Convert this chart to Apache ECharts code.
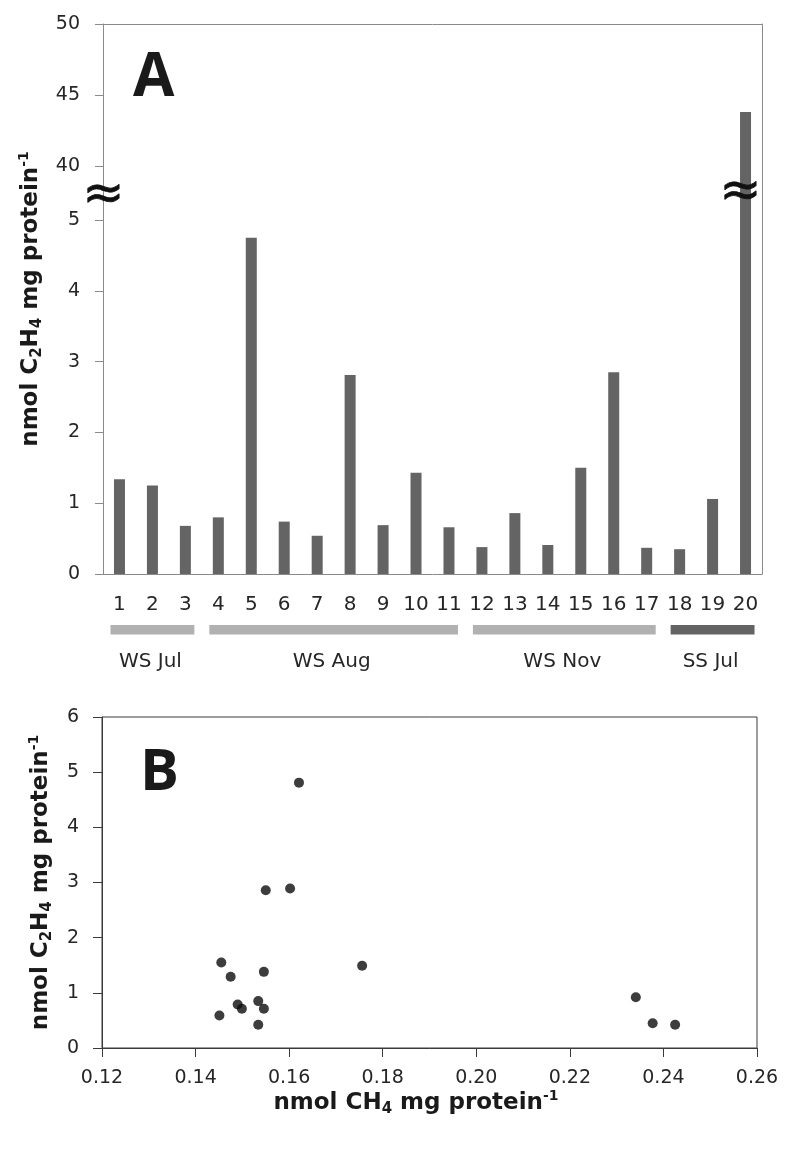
<!DOCTYPE html>
<html>
<head>
<meta charset="utf-8">
<script src="https://cdn.jsdelivr.net/npm/echarts@6/dist/echarts.min.js"></script>
<style>
html,body{margin:0;padding:0;background:#fff;}
#c{width:794px;height:1150px;}
</style>
</head>
<body>
<div id="c"></div>
<script>
// ---- Panel A data ----
const categories = ['1','2','3','4','5','6','7','8','9','10','11','12','13','14','15','16','17','18','19','20'];
const c2h4 = [1.34, 1.25, 0.68, 0.80, 4.75, 0.74, 0.54, 2.81, 0.69, 1.43, 0.66, 0.38, 0.86, 0.41, 1.50, 2.85, 0.37, 0.35, 1.06, 43.8];
const lowerTicks = [0, 1, 2, 3, 4, 5];
const upperTicks = [40, 45, 50];
const groupNames = ['WS Jul', 'WS Aug', 'WS Nov', 'SS Jul'];
const groupStart = [0, 3, 11, 17];
const groupEnd = [2, 10, 16, 19];
const groupColors = ['#b1b1b1', '#b1b1b1', '#b1b1b1', '#646464'];

// ---- Panel B data ----
const ch4B = [0.1621, 0.1550, 0.1602, 0.1455, 0.1475, 0.1546, 0.1756, 0.1490, 0.1499, 0.1534, 0.1546, 0.1451, 0.1534, 0.2341, 0.2377, 0.2425];
const c2h4B = [4.81, 2.86, 2.89, 1.55, 1.29, 1.38, 1.49, 0.79, 0.71, 0.85, 0.71, 0.59, 0.42, 0.92, 0.45, 0.42];
const xTicksB = [0.12, 0.14, 0.16, 0.18, 0.20, 0.22, 0.24, 0.26];

// ---- layout/style ----
const FONT = 'DejaVu Sans';
const grayLine = '#8a8a8a';
const darkLine = '#3a3a3a';
const txt = '#262626';
const topMin = 36.2; // lower visible edge of the upper (broken) segment

const chart = echarts.init(document.getElementById('c'), null, {renderer: 'canvas'});

const richTitle = {
  sub: {fontSize: 15, fontWeight: 'bold', fontFamily: FONT, lineHeight: 16, verticalAlign: 'bottom'},
  sup: {fontSize: 14, fontWeight: 'bold', fontFamily: FONT, lineHeight: 14, verticalAlign: 'top'}
};
function frameAxis(gridIndex, color) {
  return {type: 'value', gridIndex, position: 'right', min: 0, max: 1,
    axisLine: {show: true, lineStyle: {color, width: 1}},
    axisTick: {show: false}, axisLabel: {show: false}, splitLine: {show: false}};
}

const option = {
  animation: false,
  backgroundColor: '#fff',
  grid: [
    {left: 103, right: 32, top: 24, height: 196},
    {left: 103, right: 32, top: 220, height: 354},
    {left: 102, right: 37, top: 717, bottom: 102, show: true, borderColor: darkLine, borderWidth: 1}
  ],
  xAxis: [
    {type: 'category', gridIndex: 0, data: categories, position: 'top',
      axisLine: {show: true, onZero: false, lineStyle: {color: grayLine}},
      axisTick: {show: false}, axisLabel: {show: false}, splitLine: {show: false}},
    {type: 'category', gridIndex: 1, data: categories, position: 'bottom',
      axisLine: {show: true, onZero: false, lineStyle: {color: grayLine}},
      axisTick: {show: false},
      axisLabel: {interval: 0, fontSize: 20, fontFamily: FONT, color: txt, margin: 21}},
    {type: 'value', gridIndex: 2, min: 0.12, max: 0.26, interval: 0.02,
      axisLine: {show: true, onZero: false, lineStyle: {color: darkLine}},
      axisTick: {show: true, inside: false, length: 9, lineStyle: {color: darkLine}},
      axisLabel: {fontSize: 19, fontFamily: FONT, color: txt, margin: 21,
        formatter: v => v.toFixed(2), customValues: xTicksB},
      splitLine: {show: false}}
  ],
  yAxis: [
    {type: 'value', gridIndex: 0, min: topMin, max: 50,
      axisLine: {show: true, onZero: false, lineStyle: {color: grayLine}},
      axisTick: {show: true, inside: false, length: 8, lineStyle: {color: grayLine}, customValues: upperTicks},
      axisLabel: {fontSize: 19, fontFamily: FONT, color: txt, margin: 23, customValues: upperTicks},
      splitLine: {show: false}},
    frameAxis(0, grayLine),
    {type: 'value', gridIndex: 1, min: 0, max: 5, interval: 1,
      axisLine: {show: true, onZero: false, lineStyle: {color: grayLine}},
      axisTick: {show: true, inside: false, length: 8, lineStyle: {color: grayLine}, customValues: lowerTicks},
      axisLabel: {fontSize: 19, fontFamily: FONT, color: txt, margin: 23, customValues: lowerTicks},
      splitLine: {show: false}},
    frameAxis(1, grayLine),
    {type: 'value', gridIndex: 2, min: 0, max: 6, interval: 1,
      axisLine: {show: true, onZero: false, lineStyle: {color: darkLine}},
      axisTick: {show: true, inside: false, length: 9, lineStyle: {color: darkLine}},
      axisLabel: {fontSize: 19, fontFamily: FONT, color: txt, margin: 23},
      splitLine: {show: false}}
  ],
  series: [
    {type: 'bar', name: 'upper', xAxisIndex: 0, yAxisIndex: 0, clip: true,
      data: c2h4.map(v => (v > topMin ? v : '-')), barWidth: 11,
      itemStyle: {color: '#646464'}, silent: true},
    {type: 'bar', name: 'lower', xAxisIndex: 1, yAxisIndex: 2, clip: true,
      data: c2h4, barWidth: 11, itemStyle: {color: '#646464'}, silent: true},
    {type: 'custom', name: 'groups', xAxisIndex: 1, yAxisIndex: 2, clip: false, silent: true,
      data: groupNames.map((n, i) => [groupStart[i], 0]),
      renderItem: function (params, api) {
        const i = params.dataIndex;
        const p0 = api.coord([groupStart[i], 0]);
        const p1 = api.coord([groupEnd[i], 0]);
        const x0 = p0[0] - 9, x1 = p1[0] + 9;
        return {type: 'group', children: [
          {type: 'rect', shape: {x: x0, y: p0[1] + 51, width: x1 - x0, height: 9.5},
            style: {fill: groupColors[i]}},
          {type: 'text', x: (x0 + x1) / 2 - 2, y: p0[1] + 88,
            style: {text: groupNames[i], align: 'center', verticalAlign: 'middle',
              fontSize: 20, fontFamily: FONT, fill: txt}}
        ]};
      }},
    {type: 'scatter', name: 'B', xAxisIndex: 2, yAxisIndex: 4,
      data: ch4B.map((x, i) => [x, c2h4B[i]]), symbolSize: 10,
      itemStyle: {color: '#0d0d0d'}, silent: true}
  ]
};
chart.setOption(option);

// decorations positioned from the axes
const pTop40 = chart.convertToPixel({gridIndex: 0}, ['1', 40]);
const pLow5 = chart.convertToPixel({gridIndex: 1}, ['1', 5]);
const pBar20 = chart.convertToPixel({gridIndex: 1}, ['20', 5]);
const pLow0 = chart.convertToPixel({gridIndex: 1}, ['1', 0]);
const pTop50 = chart.convertToPixel({gridIndex: 0}, ['1', 50]);
const breakY = (pTop40[1] + pLow5[1]) / 2;
const axisX = 103;
const pB0 = chart.convertToPixel({gridIndex: 2}, [0.12, 0]);
const pB6 = chart.convertToPixel({gridIndex: 2}, [0.26, 6]);

const titleText = 'nmol C{sub|2}H{sub|4} mg protein{sup|-1}';
const approxStyle = {text: '≈', fontSize: 50, fontFamily: FONT, fill: '#111', stroke: '#111', lineWidth: 0.8,
  align: 'center', verticalAlign: 'middle'};
chart.setOption({
  graphic: [
    {type: 'text', x: axisX + 0.5, y: breakY + 3, z: 100, style: approxStyle},
    {type: 'text', x: pBar20[0] - 5, y: breakY, z: 100, style: approxStyle},
    {type: 'text', x: 133, y: 79, z: 100,
      style: {text: 'A', fontSize: 60, fontWeight: 'bold', fontFamily: 'Open Sans', fill: '#1a1a1a', align: 'left', verticalAlign: 'middle'}},
    {type: 'text', x: 140, y: 773, z: 100,
      style: {text: 'B', fontSize: 58, fontWeight: 'bold', fontFamily: 'Open Sans', fill: '#1a1a1a', align: 'left', verticalAlign: 'middle'}},
    {type: 'text', x: 31, y: (pTop50[1] + pLow0[1]) / 2, rotation: Math.PI / 2, z: 100,
      style: {text: titleText, rich: richTitle, fontSize: 23, fontWeight: 'bold', fontFamily: FONT,
        fill: '#1a1a1a', align: 'center', verticalAlign: 'middle', lineHeight: 28}},
    {type: 'text', x: 41, y: (pB0[1] + pB6[1]) / 2, rotation: Math.PI / 2, z: 100,
      style: {text: titleText, rich: richTitle, fontSize: 23, fontWeight: 'bold', fontFamily: FONT,
        fill: '#1a1a1a', align: 'center', verticalAlign: 'middle', lineHeight: 28}},
    {type: 'text', x: 416, y: 1103, z: 100,
      style: {text: 'nmol CH{sub|4} mg protein{sup|-1}', rich: richTitle, fontSize: 23, fontWeight: 'bold', fontFamily: FONT,
        fill: '#1a1a1a', align: 'center', verticalAlign: 'middle', lineHeight: 28}}
  ]
});
</script>
</body>
</html>
